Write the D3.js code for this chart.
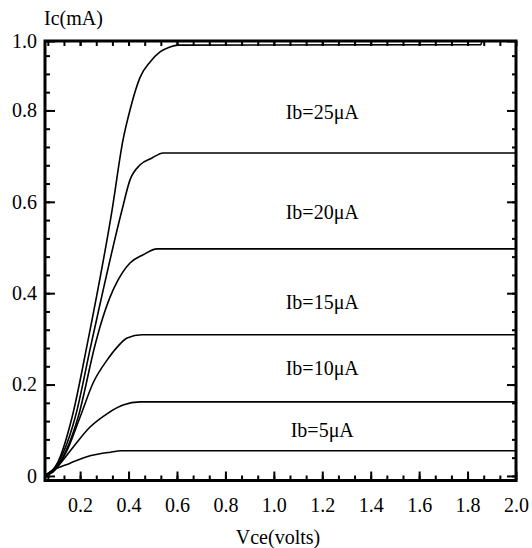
<!DOCTYPE html>
<html>
<head>
<meta charset="utf-8">
<script src="https://cdn.jsdelivr.net/npm/d3@7"></script>
<style>
body { margin: 0; background: #fff; }
text { font-family: "Liberation Serif", "DejaVu Serif", serif; fill: #000; }
</style>
</head>
<body>
<div id="chart"></div>
<script>
// Ic vs Vce, one curve per base current
const seriesLabels = ["Ib=5μA", "Ib=10μA", "Ib=15μA", "Ib=20μA", "Ib=25μA", ""];
const labelVce = 1.2;
const labelIc = [0.101, 0.236, 0.381, 0.578, 0.797, null];

const curve5 = [[0.055, 0.001], [0.076, 0.009], [0.159, 0.028], [0.241, 0.044],
  [0.324, 0.052], [0.37, 0.055], [2.0, 0.055]];
const curve10 = [[0.055, 0.001], [0.105, 0.020], [0.171, 0.063], [0.241, 0.107],
  [0.311, 0.136], [0.377, 0.155], [0.448, 0.162], [2.0, 0.162]];
const curve15 = [[0.055, 0.001], [0.089, 0.009], [0.147, 0.057], [0.200, 0.129],
  [0.254, 0.204], [0.312, 0.254], [0.353, 0.282], [0.394, 0.302], [0.456, 0.309], [2.0, 0.309]];
const curve20 = [[0.055, 0.001], [0.09, 0.012], [0.192, 0.129], [0.262, 0.287],
  [0.282, 0.326], [0.324, 0.392], [0.357, 0.429], [0.406, 0.466], [0.460, 0.484],
  [0.518, 0.497], [2.0, 0.497]];
const curve25 = [[0.055, 0.001], [0.09, 0.014], [0.180, 0.129], [0.245, 0.287],
  [0.373, 0.582], [0.406, 0.648], [0.448, 0.681], [0.497, 0.696], [0.543, 0.707], [2.0, 0.707]];
const curveTop = [[0.055, 0.001], [0.109, 0.031], [0.167, 0.129], [0.229, 0.287],
  [0.332, 0.582], [0.377, 0.735], [0.406, 0.801], [0.448, 0.873], [0.489, 0.906],
  [0.530, 0.928], [0.571, 0.939], [0.604, 0.943], [1.855, 0.944], [1.86, 0.952], [2.0, 0.952]];
const curves = [curve5, curve10, curve15, curve20, curve25, curveTop];

const xTickVals = [0.2, 0.4, 0.6, 0.8, 1.0, 1.2, 1.4, 1.6, 1.8, 2.0];
const xTickLabels = ["0.2", "0.4", "0.6", "0.8", "1.0", "1.2", "1.4", "1.6", "1.8", "2.0"];
const yTickVals = [0, 0.2, 0.4, 0.6, 0.8, 0.952];
const yTickLabels = ["0", "0.2", "0.4", "0.6", "0.8", "1.0"];

const W = 532, H = 548;
const plotL = 45, plotR = 516, plotT = 41, plotB = 480.5;
const serif = "Liberation Serif, serif";

const x = d3.scaleLinear().domain([0.055, 2.0]).range([plotL, plotR]);
const y = d3.scaleLinear().domain([-0.01, 0.952]).range([plotB, plotT]);

const xMinor = d3.range(1, 30).map(i => i * 0.2 / 3).filter(v => v > 0.056 && v < 1.999);
const yMinor = d3.range(0, 24).map(i => i * 0.04).filter(v => v < 0.95);

const svg = d3.select("#chart").append("svg")
  .attr("width", W)
  .attr("height", H);

// minor ticks, all four sides, pointing inward
function minor(axis, tr) {
  svg.append("g").attr("transform", tr)
    .call(axis.tickFormat("").tickSizeOuter(0))
    .call(g => g.select(".domain").remove())
    .call(g => g.selectAll("line").attr("stroke-width", 2));
}
minor(d3.axisBottom(x).tickValues(xMinor).tickSize(-5), `translate(0,${plotB})`);
minor(d3.axisTop(x).tickValues(xMinor).tickSize(-5), `translate(0,${plotT})`);
minor(d3.axisLeft(y).tickValues(yMinor).tickSize(-5), `translate(${plotL},0)`);
minor(d3.axisRight(y).tickValues(yMinor).tickSize(-4), `translate(${plotR},0)`);
minor(d3.axisTop(x).tickValues(xTickVals).tickSize(-5), `translate(0,${plotT})`);
minor(d3.axisRight(y).tickValues(yTickVals).tickSize(-9), `translate(${plotR},0)`);

// major ticks with labels
svg.append("g")
  .attr("transform", `translate(0,${plotB})`)
  .call(d3.axisBottom(x).tickValues(xTickVals).tickSize(-9).tickPadding(17)
    .tickFormat((d, i) => xTickLabels[i]))
  .attr("font-family", serif)
  .attr("font-size", 20)
  .call(g => g.select(".domain").remove())
  .call(g => g.selectAll("line").attr("stroke-width", 2));

svg.append("g")
  .attr("transform", `translate(${plotL},0)`)
  .call(d3.axisLeft(y).tickValues(yTickVals).tickSize(-10).tickPadding(8)
    .tickFormat((d, i) => yTickLabels[i]))
  .attr("font-family", serif)
  .attr("font-size", 20)
  .call(g => g.select(".domain").remove())
  .call(g => g.selectAll("line").attr("stroke-width", 2));

// curves
const line = d3.line()
  .x(d => x(d[0]))
  .y(d => y(d[1]))
  .curve(d3.curveMonotoneX);

svg.append("g")
  .selectAll("path")
  .data(curves)
  .join("path")
  .attr("fill", "none")
  .attr("stroke", "#000")
  .attr("stroke-width", 1.6)
  .attr("stroke-linejoin", "round")
  .attr("d", line);

// frame
svg.append("rect")
  .attr("x", plotL).attr("y", plotT)
  .attr("width", plotR - plotL).attr("height", plotB - plotT)
  .attr("fill", "none")
  .attr("stroke", "#000")
  .attr("stroke-width", 3);

// series labels
svg.append("g")
  .attr("font-family", serif)
  .selectAll("text")
  .data(seriesLabels.filter((d, i) => labelIc[i] !== null))
  .join("text")
  .attr("x", x(labelVce))
  .attr("y", (d, i) => y(labelIc[i]))
  .attr("dy", "0.35em")
  .attr("text-anchor", "middle")
  .attr("font-size", 20)
  .text(d => d);

// axis titles
svg.append("text")
  .attr("x", 44).attr("y", 25)
  .attr("font-family", serif)
  .attr("font-size", 20)
  .text("Ic(mA)");

svg.append("text")
  .attr("x", 278).attr("y", 544)
  .attr("text-anchor", "middle")
  .attr("font-family", serif)
  .attr("font-size", 20)
  .text("Vce(volts)");
</script>
</body>
</html>
